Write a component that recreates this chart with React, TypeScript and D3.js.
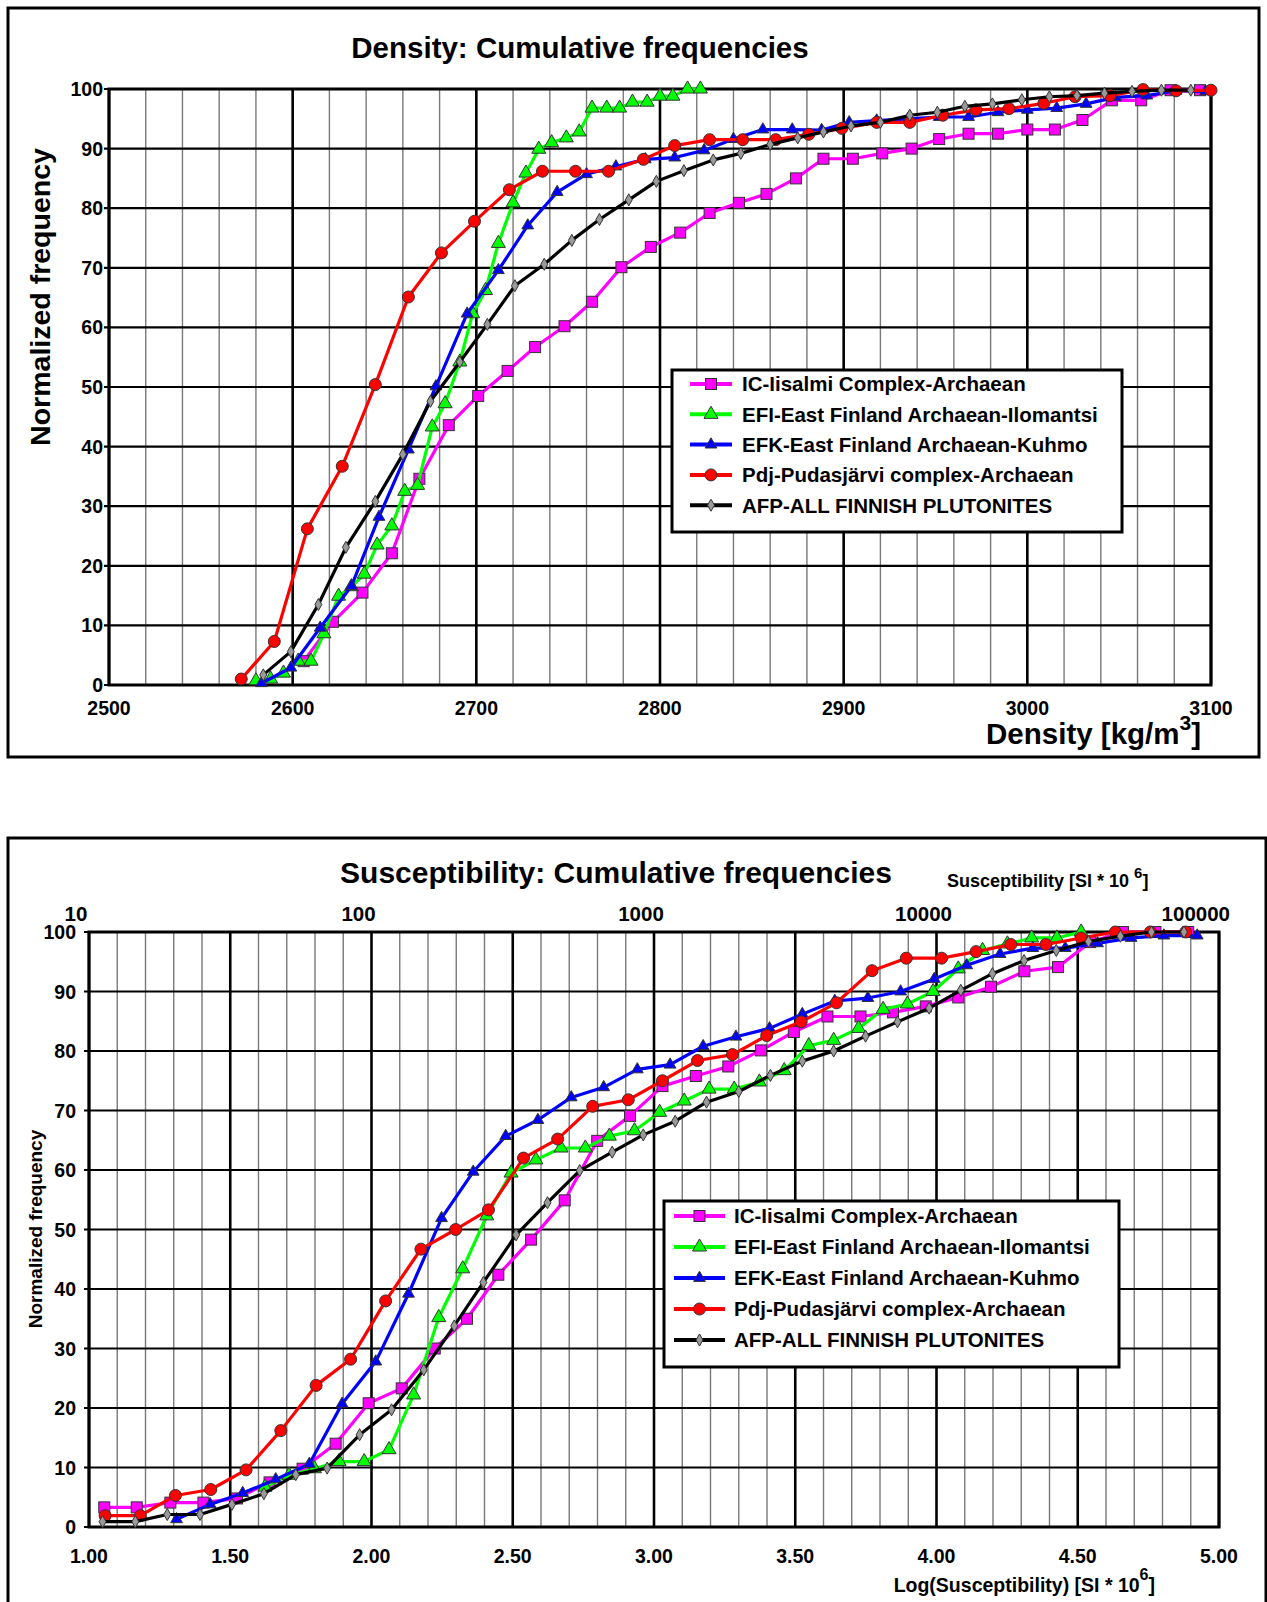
import * as d3 from "d3";

const FONT = "'Liberation Sans', Arial, Helvetica, sans-serif";

type Pt = [number, number];

// ---- axis values ----
const densityTicks = [2500, 2600, 2700, 2800, 2900, 3000, 3100];
const freqTicks = [0, 10, 20, 30, 40, 50, 60, 70, 80, 90, 100];
const logTicks = [1.0, 1.5, 2.0, 2.5, 3.0, 3.5, 4.0, 4.5, 5.0];
const suscLabels = [10, 100, 1000, 10000, 100000];

// ---- density: cumulative frequencies [kg/m3, %] ----
const densityIC: Pt[] = [
  [2606, 4.0], [2622, 10.6], [2638, 15.5], [2654, 22.1], [2669, 34.6], [2685, 43.6], [2701, 48.5], [2717, 52.7],
  [2732, 56.7], [2748, 60.2], [2763, 64.3], [2779, 70.1], [2795, 73.5], [2811, 75.9], [2827, 79.2], [2843, 80.9],
  [2858, 82.4], [2874, 85.0], [2889, 88.3], [2905, 88.3], [2921, 89.2], [2937, 90.0], [2952, 91.6], [2968, 92.5],
  [2984, 92.5], [3000, 93.2], [3015, 93.2], [3030, 94.8], [3046, 98.1], [3062, 98.1], [3078, 99.8], [3094, 99.8],
];
const densityEFI: Pt[] = [
  [2580, 0.7], [2588, 1.0], [2595, 2.0], [2603, 4.0], [2610, 4.0], [2617, 8.6], [2625, 14.9], [2632, 16.5],
  [2639, 18.6], [2646, 23.5], [2654, 26.7], [2661, 32.5], [2668, 33.5], [2676, 43.3], [2683, 47.2], [2691, 54.2],
  [2698, 62.3], [2705, 66.2], [2712, 74.1], [2720, 80.9], [2727, 85.9], [2734, 89.9], [2741, 91.0], [2749, 91.8],
  [2756, 92.8], [2763, 96.8], [2771, 96.8], [2778, 96.8], [2785, 97.8], [2793, 97.8], [2800, 98.8], [2807, 98.8],
  [2815, 100], [2822, 100],
];
const densityEFK: Pt[] = [
  [2583, 0.3], [2599, 2.9], [2615, 9.6], [2632, 16.6], [2647, 28.2], [2663, 39.5], [2678, 50.1], [2695, 62.3],
  [2712, 69.6], [2728, 77.1], [2744, 82.7], [2760, 85.7], [2776, 87.0], [2792, 88.2], [2808, 88.5], [2824, 89.7],
  [2840, 91.6], [2856, 93.2], [2872, 93.2], [2888, 93.1], [2903, 94.4], [2918, 94.7], [2935, 95.0], [2952, 95.3],
  [2968, 95.3], [2984, 96.1], [3000, 96.5], [3016, 96.8], [3032, 97.5], [3048, 98.6], [3065, 98.9], [3081, 99.7],
  [3097, 99.6],
];
const densityPdj: Pt[] = [
  [2572, 1.0], [2590, 7.3], [2608, 26.2], [2627, 36.7], [2645, 50.4], [2663, 65.1], [2681, 72.5], [2699, 77.8],
  [2718, 83.1], [2736, 86.2], [2754, 86.2], [2772, 86.2], [2791, 88.2], [2808, 90.5], [2827, 91.5], [2845, 91.5],
  [2863, 91.5], [2881, 92.4], [2899, 93.4], [2918, 94.4], [2936, 94.4], [2954, 95.6], [2972, 96.5], [2990, 96.7],
  [3009, 97.6], [3026, 98.7], [3045, 98.9], [3063, 99.9], [3081, 99.7], [3100, 99.8],
];
const densityAFP: Pt[] = [
  [2584, 1.7], [2599, 5.6], [2614, 13.5], [2629, 23.1], [2645, 30.8], [2660, 38.7], [2675, 47.6], [2691, 54.2],
  [2706, 60.5], [2721, 67.0], [2737, 70.6], [2752, 74.6], [2767, 78.1], [2783, 81.4], [2798, 84.5], [2813, 86.3],
  [2829, 88.1], [2844, 89.2], [2860, 90.7], [2875, 91.8], [2889, 92.8], [2904, 93.8], [2920, 94.4], [2936, 95.6],
  [2951, 96.1], [2966, 97.1], [2981, 97.5], [2997, 98.2], [3012, 98.7], [3027, 98.9], [3042, 99.3], [3057, 99.6],
  [3073, 99.8], [3089, 99.8],
];

// ---- susceptibility: cumulative frequencies [log10(SI*1e6), %] ----
const suscIC: Pt[] = [
  [1.054, 3.3], [1.169, 3.3], [1.288, 4.1], [1.405, 4.1], [1.524, 4.8], [1.639, 7.5], [1.756, 9.8], [1.873, 14.0],
  [1.99, 20.8], [2.107, 23.3], [2.224, 30.0], [2.338, 35.0], [2.449, 42.4], [2.565, 48.3], [2.684, 54.9], [2.799, 64.9],
  [2.915, 69.1], [3.03, 74.1], [3.148, 75.8], [3.263, 77.4], [3.379, 80.1], [3.495, 83.2], [3.614, 85.8], [3.731, 85.8],
  [3.846, 86.5], [3.962, 87.5], [4.077, 89.0], [4.193, 90.8], [4.311, 93.4], [4.43, 94.1], [4.544, 98.3], [4.66, 100],
  [4.775, 100], [4.891, 100],
];
const suscEFI: Pt[] = [
  [1.623, 6.7], [1.708, 8.7], [1.798, 9.8], [1.885, 11.0], [1.974, 11.0], [2.062, 13.0], [2.149, 22.2], [2.238, 35.2],
  [2.323, 43.4], [2.408, 52.3], [2.494, 59.5], [2.582, 61.7], [2.671, 63.7], [2.757, 63.7], [2.842, 65.7], [2.931, 66.6],
  [3.02, 69.7], [3.107, 71.6], [3.195, 73.6], [3.284, 73.6], [3.373, 74.8], [3.461, 76.7], [3.548, 80.9], [3.636, 81.8],
  [3.724, 83.8], [3.811, 87.0], [3.897, 87.9], [3.988, 90.0], [4.077, 93.8], [4.163, 96.9], [4.251, 98.0], [4.337, 99.0],
  [4.426, 99.0], [4.512, 100],
];
const suscEFK: Pt[] = [
  [1.31, 1.3], [1.429, 3.8], [1.544, 5.7], [1.661, 8.0], [1.78, 10.6], [1.896, 20.7], [2.015, 27.8], [2.131, 39.2],
  [2.248, 51.9], [2.36, 59.7], [2.475, 65.7], [2.589, 68.4], [2.707, 72.2], [2.822, 73.9], [2.941, 76.9], [3.057, 77.7],
  [3.174, 80.8], [3.29, 82.4], [3.409, 83.8], [3.525, 86.2], [3.64, 88.4], [3.757, 88.9], [3.873, 90.0], [3.992, 92.1],
  [4.107, 94.4], [4.225, 96.3], [4.341, 97.3], [4.456, 97.3], [4.57, 98.1], [4.689, 99.0], [4.805, 99.4], [4.923, 99.4],
];
const suscPdj: Pt[] = [
  [1.057, 1.9], [1.182, 1.9], [1.306, 5.3], [1.431, 6.3], [1.556, 9.6], [1.679, 16.2], [1.804, 23.8], [1.926, 28.2],
  [2.05, 38.0], [2.175, 46.7], [2.298, 50.0], [2.414, 53.3], [2.538, 62.0], [2.659, 65.2], [2.783, 70.7], [2.909, 71.8],
  [3.03, 75.0], [3.154, 78.4], [3.278, 79.4], [3.399, 82.6], [3.521, 84.9], [3.646, 88.1], [3.772, 93.5], [3.893, 95.6],
  [4.018, 95.6], [4.14, 96.7], [4.263, 97.9], [4.387, 97.9], [4.512, 99.0], [4.633, 100], [4.757, 100], [4.882, 100],
];
const suscAFP: Pt[] = [
  [1.048, 0.9], [1.164, 0.9], [1.277, 2.1], [1.393, 2.1], [1.506, 3.8], [1.619, 5.6], [1.732, 8.8], [1.843, 9.9],
  [1.958, 15.5], [2.071, 19.7], [2.185, 26.4], [2.293, 33.8], [2.396, 41.1], [2.512, 49.1], [2.623, 54.5], [2.737, 59.9],
  [2.852, 63.0], [2.962, 65.9], [3.075, 68.2], [3.186, 71.4], [3.3, 73.2], [3.412, 75.9], [3.525, 78.3], [3.636, 80.0],
  [3.749, 82.5], [3.862, 84.9], [3.974, 87.2], [4.086, 90.2], [4.198, 93.0], [4.31, 95.2], [4.424, 96.9], [4.538, 98.4],
  [4.651, 99.3], [4.761, 100], [4.876, 100],
];

const seriesNames = [
  "IC-Iisalmi Complex-Archaean",
  "EFI-East Finland Archaean-Ilomantsi",
  "EFK-East Finland Archaean-Kuhmo",
  "Pdj-Pudasjärvi complex-Archaean",
  "AFP-ALL FINNISH PLUTONITES",
];

const STYLES = [
  { color: "#ff00ff", shape: "square" },
  { color: "#00ff00", shape: "triangle" },
  { color: "#0000ff", shape: "smallTriangle" },
  { color: "#ff0000", shape: "circle" },
  { color: "#000000", shape: "diamond" },
];

const triPath = d3.symbol().type(d3.symbolTriangle).size(85)();
const smallTriPath = d3.symbol().type(d3.symbolTriangle).size(60)();
const diamondPath = d3.symbol().type(d3.symbolDiamond).size(42)();

function Marker({ shape, color, x, y }: { shape: string; color: string; x: number; y: number }) {
  const stroke = "#333";
  if (shape === "square")
    return <rect x={x - 5.5} y={y - 5.5} width={11} height={11} fill={color} stroke={stroke} strokeWidth={1} />;
  if (shape === "circle") return <circle cx={x} cy={y} r={6} fill={color} stroke={stroke} strokeWidth={1} />;
  if (shape === "triangle")
    return <path d={triPath!} transform={`translate(${x},${y})`} fill={color} stroke={stroke} strokeWidth={1} />;
  if (shape === "smallTriangle")
    return <path d={smallTriPath!} transform={`translate(${x},${y})`} fill={color} stroke={stroke} strokeWidth={1} />;
  return <path d={diamondPath!} transform={`translate(${x},${y})`} fill="#9a9a9a" stroke={stroke} strokeWidth={1} />;
}

type PanelProps = {
  xDomain: [number, number];
  xRange: [number, number];
  yRange: [number, number];
  minorStep: number;
  majorStep: number;
  data: Pt[][];
};

function Panel({ xDomain, xRange, yRange, minorStep, majorStep, data }: PanelProps) {
  const x = d3.scaleLinear().domain(xDomain).range(xRange);
  const y = d3.scaleLinear().domain([0, 100]).range(yRange);
  const n = Math.round((xDomain[1] - xDomain[0]) / minorStep);
  const vLines = d3.range(0, n + 1).map((i) => xDomain[0] + i * minorStep);
  const isMajor = (v: number) => Math.abs((v - xDomain[0]) / majorStep - Math.round((v - xDomain[0]) / majorStep)) < 1e-6;
  const line = d3
    .line<Pt>()
    .x((d) => x(d[0]))
    .y((d) => y(d[1]));

  return (
    <g>
      {vLines.filter((v) => !isMajor(v)).map((v, i) => (
        <line key={"mi" + i} x1={x(v)} x2={x(v)} y1={yRange[0]} y2={yRange[1]} stroke="#7a7a7a" strokeWidth={1.4} />
      ))}
      {vLines.filter((v) => isMajor(v)).map((v, i) => (
        <line key={"ma" + i} x1={x(v)} x2={x(v)} y1={yRange[0]} y2={yRange[1]} stroke="#000" strokeWidth={2.6} />
      ))}
      {freqTicks.map((t) => (
        <line key={"h" + t} x1={xRange[0] - 5} x2={xRange[1]} y1={y(t)} y2={y(t)} stroke="#000" strokeWidth={2.2} />
      ))}
      <rect
        x={xRange[0]}
        y={yRange[1]}
        width={xRange[1] - xRange[0]}
        height={yRange[0] - yRange[1]}
        fill="none"
        stroke="#000"
        strokeWidth={3}
      />
      {data.map((s, si) => (
        <g key={"s" + si}>
          <path d={line(s)!} fill="none" stroke={STYLES[si].color} strokeWidth={3.2} strokeLinejoin="round" />
          {s.map((d, i) => (
            <Marker key={i} shape={STYLES[si].shape} color={STYLES[si].color} x={x(d[0])} y={y(d[1])} />
          ))}
        </g>
      ))}
    </g>
  );
}

function Legend({ x, y, w, h, row0, gap, lineX, textX }: {
  x: number; y: number; w: number; h: number; row0: number; gap: number; lineX: [number, number]; textX: number;
}) {
  return (
    <g>
      <rect x={x} y={y} width={w} height={h} fill="#fff" stroke="#000" strokeWidth={3} />
      {seriesNames.map((name, i) => {
        const cy = row0 + i * gap;
        return (
          <g key={name}>
            <line x1={lineX[0]} x2={lineX[1]} y1={cy} y2={cy} stroke={STYLES[i].color} strokeWidth={4} />
            <Marker shape={STYLES[i].shape} color={STYLES[i].color} x={(lineX[0] + lineX[1]) / 2} y={cy} />
            <text x={textX} y={cy} dy="0.36em" fontSize={20.5} fontWeight="bold" fontFamily={FONT}>
              {name}
            </text>
          </g>
        );
      })}
    </g>
  );
}

export default function App() {
  // density panel geometry
  const dX: [number, number] = [109, 1211];
  const dY: [number, number] = [685, 89];
  const dx = d3.scaleLinear().domain([2500, 3100]).range(dX);
  const dy = d3.scaleLinear().domain([0, 100]).range(dY);

  // susceptibility panel geometry
  const sX: [number, number] = [89, 1219];
  const sY: [number, number] = [1527, 932];
  const sx = d3.scaleLinear().domain([1, 5]).range(sX);
  const sy = d3.scaleLinear().domain([0, 100]).range(sY);

  return (
    <svg
      width={1267}
      height={1602}
      style={{ position: "absolute", left: 0, top: 0, background: "#fff" }}
      fontFamily={FONT}
    >
      <rect x={0} y={0} width={1267} height={1602} fill="#fff" />

      {/* ---------- Density ---------- */}
      <rect x={8} y={8} width={1251} height={749} fill="none" stroke="#000" strokeWidth={3} />
      <text x={580} y={58} textAnchor="middle" fontSize={29.5} fontWeight="bold">
        Density: Cumulative frequencies
      </text>
      <Panel
        xDomain={[2500, 3100]}
        xRange={dX}
        yRange={dY}
        minorStep={20}
        majorStep={100}
        data={[densityIC, densityEFI, densityEFK, densityPdj, densityAFP]}
      />
      {freqTicks.map((t) => (
        <text key={t} x={dX[0] - 6} y={dy(t)} dy="0.36em" textAnchor="end" fontSize={19.5} fontWeight="bold">
          {t}
        </text>
      ))}
      {densityTicks.map((t) => (
        <text key={t} x={dx(t)} y={708} dy="0.36em" textAnchor="middle" fontSize={19.5} fontWeight="bold">
          {t}
        </text>
      ))}
      <text
        transform={`translate(50,297) rotate(-90)`}
        textAnchor="middle"
        fontSize={28.5}
        fontWeight="bold"
      >
        Normalized frequency
      </text>
      <text x={1201} y={744} textAnchor="end" fontSize={29.5} fontWeight="bold">
        Density [kg/m<tspan dy={-14} fontSize={21}>3</tspan>
        <tspan dy={14}>]</tspan>
      </text>
      <Legend x={672} y={370} w={450} h={162} row0={384} gap={30.3} lineX={[690, 732]} textX={742} />

      {/* ---------- Susceptibility ---------- */}
      <rect x={8} y={838} width={1258} height={770} fill="none" stroke="#000" strokeWidth={3} />
      <text x={616} y={883} textAnchor="middle" fontSize={30} fontWeight="bold">
        Susceptibility: Cumulative frequencies
      </text>
      <text x={947} y={887} fontSize={18} fontWeight="bold">
        Susceptibility [SI * 10 <tspan dy={-9} fontSize={15}>6</tspan>
        <tspan dy={9}>]</tspan>
      </text>
      {suscLabels.map((v, i) => {
        const last = i === suscLabels.length - 1;
        return (
          <text
            key={v}
            x={last ? sx(Math.log10(v)) + 11 : sx(Math.log10(v)) - 13}
            y={914}
            dy="0.36em"
            textAnchor={last ? "end" : "middle"}
            fontSize={20.5}
            fontWeight="bold"
          >
            {v}
          </text>
        );
      })}
      <Panel
        xDomain={[1, 5]}
        xRange={sX}
        yRange={sY}
        minorStep={0.1}
        majorStep={0.5}
        data={[suscIC, suscEFI, suscEFK, suscPdj, suscAFP]}
      />
      {freqTicks.map((t) => (
        <text key={t} x={sX[0] - 13} y={sy(t)} dy="0.36em" textAnchor="end" fontSize={19.5} fontWeight="bold">
          {t}
        </text>
      ))}
      {logTicks.map((t) => (
        <text key={t} x={sx(t)} y={1556} dy="0.36em" textAnchor="middle" fontSize={19.5} fontWeight="bold">
          {t.toFixed(2)}
        </text>
      ))}
      <text
        transform={`translate(42,1229) rotate(-90)`}
        textAnchor="middle"
        fontSize={19}
        fontWeight="bold"
      >
        Normalized frequency
      </text>
      <text x={1155} y={1592} textAnchor="end" fontSize={19.5} fontWeight="bold">
        Log(Susceptibility) [SI * 10<tspan dy={-12} fontSize={16}>6</tspan>
        <tspan dy={12}>]</tspan>
      </text>
      <Legend x={664} y={1201} w={455} h={166} row0={1216} gap={31} lineX={[674, 725]} textX={734} />
    </svg>
  );
}
